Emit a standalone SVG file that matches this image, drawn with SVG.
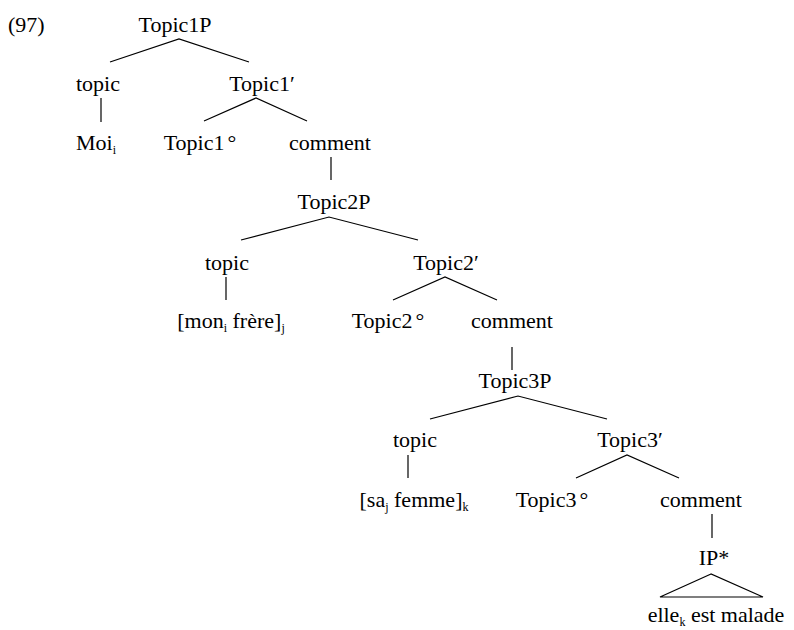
<svg xmlns="http://www.w3.org/2000/svg" width="794" height="630" viewBox="0 0 794 630">
  <style>
    text { font-family: "Liberation Serif", "Times New Roman", serif; font-size: 22px; fill: #000; text-anchor: middle; }
    .sub { font-size: 12px; }
    .edge { stroke: #000; stroke-width: 1.2; fill: none; }
  </style>
  <rect width="794" height="630" fill="#fff"/>

  <text x="8" y="32" style="text-anchor:start">(97)</text>

  <!-- tree edges -->
  <g id="connectors">
    <polyline class="edge" points="110,62 179,39 249,62"/>
    <line class="edge" x1="101" y1="98" x2="101" y2="122"/>
    <polyline class="edge" points="204,121 256,98 307,121"/>
    <line class="edge" x1="331" y1="157" x2="331" y2="180"/>
    <polyline class="edge" points="241,240 329,217 418,240"/>
    <line class="edge" x1="226" y1="277" x2="226" y2="300"/>
    <polyline class="edge" points="393,300 445,277 497,300"/>
    <line class="edge" x1="512" y1="347" x2="512" y2="370"/>
    <polyline class="edge" points="430,419 518,396 607,419"/>
    <line class="edge" x1="408" y1="455" x2="408" y2="478"/>
    <polyline class="edge" points="576,478 627,455 679,478"/>
    <line class="edge" x1="712" y1="514" x2="712" y2="538"/>
    <polygon class="edge" points="711,574 660,597 763,597"/>
  </g>

  <!-- level 1 -->
  <g id="topic1p"><text x="175" y="32">Topic1P</text></g>
  <g id="topic1"><text x="98" y="91">topic</text></g>
  <g id="topic1bar"><text x="262" y="91">Topic1′</text></g>
  <g id="moi"><text x="96" y="150">Moi<tspan class="sub" dy="4">i</tspan></text></g>
  <g id="topic1head"><text x="200" y="150">Topic1<tspan dx="3">°</tspan></text></g>
  <g id="comment1"><text x="330" y="150">comment</text></g>

  <!-- level 2 -->
  <g id="topic2p"><text x="334" y="209">Topic2P</text></g>
  <g id="topic2"><text x="227" y="270">topic</text></g>
  <g id="topic2bar"><text x="446" y="270">Topic2′</text></g>
  <g id="monfrere"><text x="231" y="328">[mon<tspan class="sub" dy="4">i</tspan><tspan dy="-4"> frère]</tspan><tspan class="sub" dy="4">j</tspan></text></g>
  <g id="topic2head"><text x="388" y="328">Topic2<tspan dx="3">°</tspan></text></g>
  <g id="comment2"><text x="512" y="328">comment</text></g>

  <!-- level 3 -->
  <g id="topic3p"><text x="515" y="388">Topic3P</text></g>
  <g id="topic3"><text x="415" y="447">topic</text></g>
  <g id="topic3bar"><text x="630" y="447">Topic3′</text></g>
  <g id="safemme"><text x="414" y="507">[sa<tspan class="sub" dy="4">j</tspan><tspan dy="-4"> femme]</tspan><tspan class="sub" dy="4">k</tspan></text></g>
  <g id="topic3head"><text x="552" y="507">Topic3<tspan dx="3">°</tspan></text></g>
  <g id="comment3"><text x="701" y="507">comment</text></g>

  <!-- innermost clause -->
  <g id="ip"><text x="714" y="565">IP*</text></g>
  <g id="ellemalade"><text x="716" y="622">elle<tspan class="sub" dy="4">k</tspan><tspan dy="-4"> est malade</tspan></text></g>
</svg>
